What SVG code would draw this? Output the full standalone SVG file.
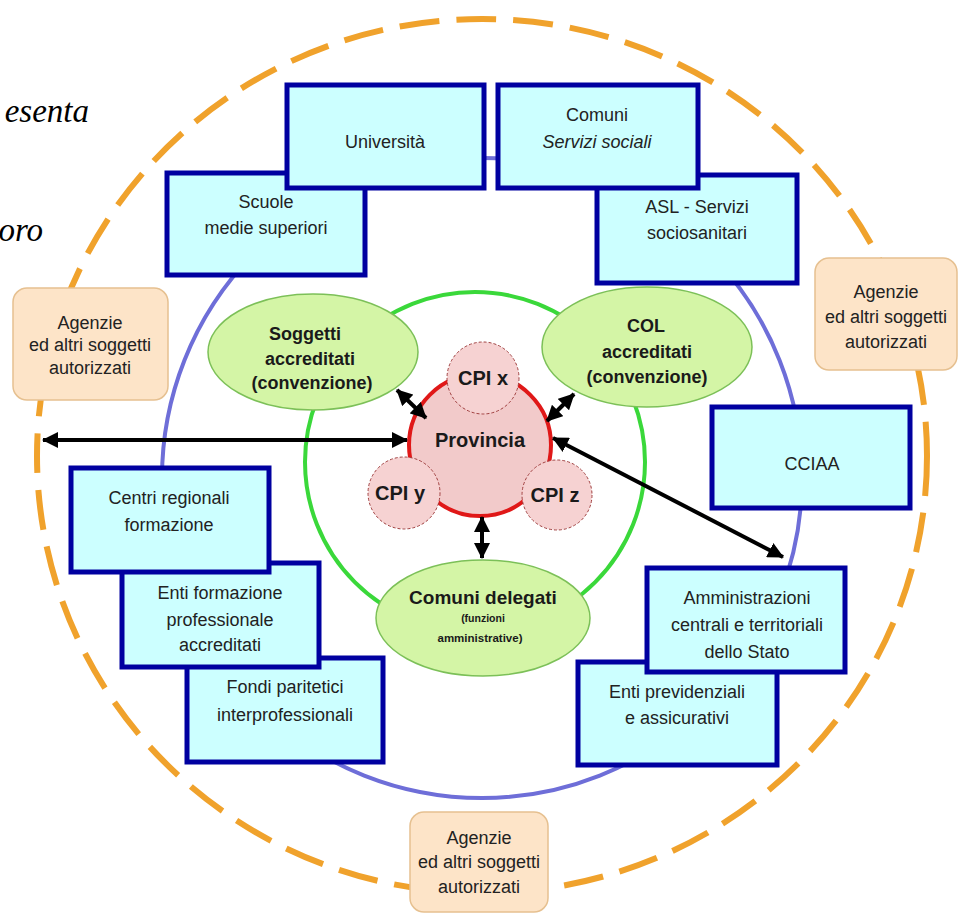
<svg xmlns="http://www.w3.org/2000/svg" width="960" height="918" viewBox="0 0 960 918">
<defs>
<style>
.box rect{fill:#ccffff;stroke:#0000a0;stroke-width:5}
.ag rect{fill:#fde4c8;stroke:#e6c090;stroke-width:1.5}
.ell ellipse{fill:#d4f5a6;stroke:#7cc058;stroke-width:1.5}
text{font-family:"Liberation Sans",Arial,sans-serif;font-size:18px;fill:#222;text-anchor:middle}
.b{font-weight:bold;fill:#1a1a1a}
.cpi{fill:#f6d2d2;stroke:#a04040;stroke-width:1;stroke-dasharray:3 2}
.it{font-style:italic}
.serif{font-family:"Liberation Serif","Times New Roman",serif;font-style:italic;font-size:33px;fill:#000;text-anchor:end}
.conn line{stroke:#000;stroke-width:4;marker-start:url(#ah);marker-end:url(#ah)}
</style>
<marker id="ah" markerUnits="userSpaceOnUse" markerWidth="16" markerHeight="16" viewBox="0 0 16 16" refX="15" refY="8" orient="auto-start-reverse">
<path d="M0,0 L16,8 L0,16 z" fill="#000"/>
</marker>
</defs>
<rect width="960" height="918" fill="#fff"/>

<text class="serif" x="89" y="122">esenta</text>
<text class="serif" x="43" y="241">oro</text>

<g id="rings">
<ellipse cx="482" cy="456" rx="445" ry="437" fill="none" stroke="#f0a22c" stroke-width="6" stroke-dasharray="40 17"/>
<circle cx="482" cy="478" r="320" fill="none" stroke="#6e6ed8" stroke-width="4"/>
<circle cx="475" cy="462" r="170" fill="none" stroke="#3ad83a" stroke-width="4"/>
</g>

<g id="scuole" class="box"><rect x="167" y="173" width="198" height="102"/><text x="266" y="208">Scuole</text><text x="266" y="234">medie superiori</text></g>
<g id="universita" class="box"><rect x="287" y="85" width="197" height="103"/><text x="385" y="148">Università</text></g>
<g id="asl" class="box"><rect x="597" y="175" width="200" height="108"/><text x="697" y="213">ASL  - Servizi</text><text x="697" y="239">sociosanitari</text></g>
<g id="comuni" class="box"><rect x="498" y="85" width="200" height="103"/><text x="597" y="121">Comuni</text><text x="597" y="148" class="it">Servizi sociali</text></g>
<g id="cciaa" class="box"><rect x="712" y="407" width="198" height="101"/><text x="812" y="470">CCIAA</text></g>
<g id="enti-prev" class="box"><rect x="578" y="662" width="199" height="103"/><text x="677" y="698">Enti previdenziali</text><text x="677" y="724">e assicurativi</text></g>
<g id="amministrazioni" class="box"><rect x="647" y="568" width="198" height="104"/><text x="747" y="604">Amministrazioni</text><text x="747" y="631">centrali e territoriali</text><text x="747" y="658">dello Stato</text></g>
<g id="fondi" class="box"><rect x="187" y="658" width="196" height="104"/><text x="285" y="693">Fondi  paritetici</text><text x="285" y="721">interprofessionali</text></g>
<g id="enti-form" class="box"><rect x="122" y="563" width="197" height="104"/><text x="220" y="599">Enti formazione</text><text x="220" y="626">professionale</text><text x="220" y="651">accreditati</text></g>
<g id="centri" class="box"><rect x="71" y="468" width="198" height="104"/><text x="169" y="504">Centri regionali</text><text x="169" y="531">formazione</text></g>

<g id="agenzie-left" class="ag"><rect x="13" y="288" width="155" height="112" rx="14"/><text x="90" y="329">Agenzie</text><text x="90" y="351">ed altri soggetti</text><text x="90" y="374">autorizzati</text></g>
<g id="agenzie-right" class="ag"><rect x="815" y="258" width="142" height="112" rx="14"/><text x="886" y="298">Agenzie</text><text x="886" y="323">ed altri soggetti</text><text x="886" y="348">autorizzati</text></g>
<g id="agenzie-bottom" class="ag"><rect x="410" y="812" width="138" height="100" rx="14"/><text x="479" y="844">Agenzie</text><text x="479" y="868">ed altri soggetti</text><text x="479" y="893">autorizzati</text></g>

<g id="soggetti" class="ell"><ellipse cx="313" cy="352" rx="105" ry="58"/><text class="b" x="305" y="340">Soggetti</text><text class="b" x="310" y="365">accreditati</text><text class="b" x="312" y="389">(convenzione)</text></g>
<g id="col" class="ell"><ellipse cx="647" cy="347" rx="105" ry="60"/><text class="b" x="646" y="332">COL</text><text class="b" x="647" y="358">accreditati</text><text class="b" x="647" y="383">(convenzione)</text></g>
<g id="comuni-delegati" class="ell"><ellipse cx="483" cy="618" rx="107" ry="58"/><text class="b" x="483" y="604" style="font-size:19px">Comuni delegati</text><text class="b" x="483" y="622" style="font-size:10.5px">(funzioni</text><text class="b" x="480" y="642" style="font-size:11.5px">amministrative)</text></g>

<g id="provincia">
<circle cx="480" cy="445" r="71" fill="#f2caca" stroke="#e01818" stroke-width="4"/>
<text class="b" x="480" y="447" style="font-size:20px;font-weight:600">Provincia</text>
</g>
<g id="cpi-x"><circle class="cpi" cx="483" cy="378" r="36"/><text class="b" x="483" y="385" style="font-size:20px;font-weight:600">CPI x</text></g>
<g id="cpi-y"><circle class="cpi" cx="404" cy="493" r="36"/><text class="b" x="400" y="500" style="font-size:20px;font-weight:600">CPI y</text></g>
<g id="cpi-z"><circle class="cpi" cx="557" cy="495" r="35"/><text class="b" x="555" y="502" style="font-size:20px;font-weight:600">CPI z</text></g>

<g id="connectors" class="conn">
<line x1="43" y1="440" x2="407" y2="440"/>
<line x1="553" y1="438" x2="783" y2="557"/>
<line x1="397" y1="390" x2="426" y2="418"/>
<line x1="547" y1="421" x2="574" y2="394"/>
<line x1="482" y1="517" x2="482" y2="558"/>
</g>
</svg>
